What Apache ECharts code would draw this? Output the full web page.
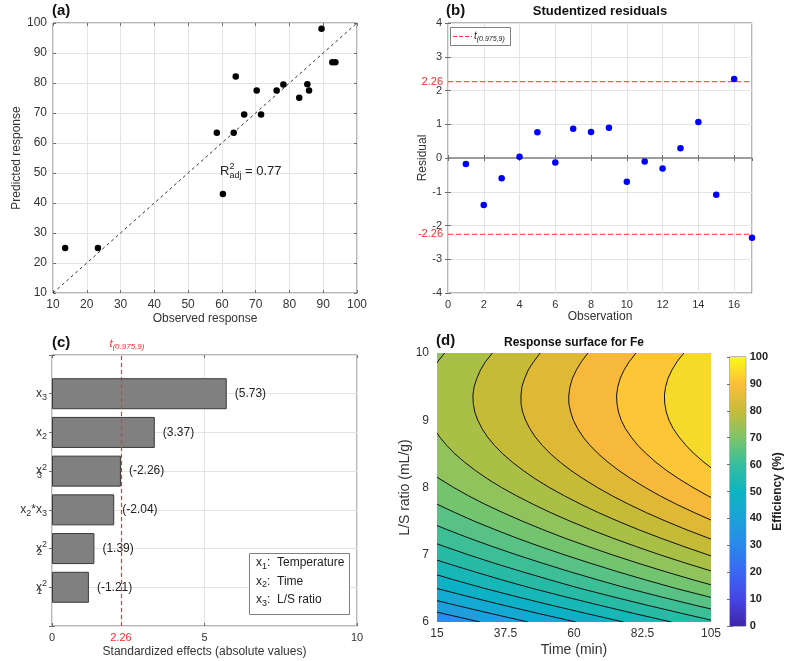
<!DOCTYPE html>
<html>
<head>
<meta charset="utf-8">
<script src="https://cdn.jsdelivr.net/npm/echarts@6/dist/echarts.min.js"></script>
<style>
  html, body { margin: 0; background: #fff; }
  #chart { width: 785px; height: 661px; }
</style>
</head>
<body>
<div id="chart"></div>
<script>
// ---- (a) observed vs predicted ----
const observed  = [13.6, 23.3, 58.5, 63.5, 64.1, 66.6, 71.6, 70.3, 76.2, 78.2, 82.9, 85.3, 85.8, 89.5, 92.7, 93.6, 60.3];
const predicted = [25.0, 25.0, 63.4, 63.4, 82.2, 69.5, 69.5, 77.5, 77.5, 79.5, 75.1, 79.6, 77.5, 98.1, 86.9, 86.9, 43.0];
const refLine = [[10, 10], [100, 100]];
const r2adj = 0.77;

// ---- (b) studentized residuals ----
const observation = [1, 2, 3, 4, 5, 6, 7, 8, 9, 10, 11, 12, 13, 14, 15, 16, 17];
const residuals = [-0.18, -1.39, -0.60, 0.04, 0.76, -0.13, 0.87, 0.77, 0.90, -0.70, -0.10, -0.31, 0.29, 1.07, -1.09, 2.34, -2.36];
const obsRange = [0, 17];
const tCrit = 2.26;

// ---- (c) standardized effects ----
const terms = ['x1^2', 'x2^2', 'x2*x3', 'x3^2', 'x2', 'x3'];
const effects = [-1.21, 1.39, -2.04, -2.26, 3.37, 5.73];
const factorNames = ['Temperature', 'Time', 'L/S ratio'];
const effectTicks = [0, tCrit, 5, 10];

// ---- (d) response surface (contour lines, [time, L/S]) ----
const timeTicks = [15, 37.5, 60, 82.5, 105];
const contourLevels = [36, 40, 44, 48, 52, 56, 60, 64, 68, 72, 76, 80, 84, 88, 92];
const contourLines = [
  [[29.1,6],[17.1,6.125],[5.4,6.25]],
  [[44.9,6],[32.8,6.125],[21.1,6.25],[9.9,6.375]],
  [[60.6,6],[48.5,6.125],[36.8,6.25],[25.6,6.375],[14.8,6.5]],
  [[76.3,6],[64.2,6.125],[52.5,6.25],[41.3,6.375],[30.6,6.5],[20.7,6.625],[11.3,6.75]],
  [[92.0,6],[79.9,6.125],[68.3,6.25],[57.1,6.375],[46.3,6.5],[36.4,6.625],[27.1,6.75],[18.1,6.875],[9.6,7]],
  [[107.7,6],[95.7,6.125],[84.0,6.25],[72.8,6.375],[62.0,6.5],[52.2,6.625],[42.8,6.75],[33.8,6.875],[25.3,7],[17.3,7.125],[9.7,7.25]],
  [[111.4,6.125],[99.7,6.25],[88.5,6.375],[77.7,6.5],[67.9,6.625],[58.5,6.75],[49.6,6.875],[41.1,7],[33.0,7.125],[25.4,7.25],[18.2,7.375],[11.5,7.5]],
  [[115.4,6.25],[104.2,6.375],[93.4,6.5],[83.6,6.625],[74.2,6.75],[65.3,6.875],[56.8,7],[48.7,7.125],[41.1,7.25],[34.0,7.375],[27.2,7.5],[21.0,7.625],[15.1,7.75],[9.7,7.875]],
  [[119.9,6.375],[109.2,6.5],[99.3,6.625],[89.9,6.75],[81.0,6.875],[72.5,7],[64.5,7.125],[56.8,7.25],[49.7,7.375],[43.0,7.5],[36.7,7.625],[30.8,7.75],[25.4,7.875],[20.5,8],[16.0,8.125],[11.9,8.25]],
  [[115.0,6.625],[105.7,6.75],[96.7,6.875],[88.2,7],[80.2,7.125],[72.6,7.25],[65.4,7.375],[58.7,7.5],[52.4,7.625],[46.6,7.75],[41.2,7.875],[36.2,8],[31.7,8.125],[27.7,8.25],[24.1,8.375],[20.9,8.5],[18.2,8.625],[15.9,8.75],[14.0,8.875],[12.6,9],[11.7,9.125],[11.2,9.25],[11.1,9.375],[11.5,9.5],[12.3,9.625],[13.6,9.75],[15.3,9.875],[17.5,10]],
  [[112.4,6.875],[103.9,7],[95.9,7.125],[88.3,7.25],[81.1,7.375],[74.4,7.5],[68.1,7.625],[62.3,7.75],[56.9,7.875],[51.9,8],[47.4,8.125],[43.4,8.25],[39.8,8.375],[36.6,8.5],[33.9,8.625],[31.6,8.75],[29.8,8.875],[28.4,9],[27.4,9.125],[26.9,9.25],[26.8,9.375],[27.2,9.5],[28.1,9.625],[29.3,9.75],[31.0,9.875],[33.2,10]],
  [[111.6,7.125],[104.0,7.25],[96.8,7.375],[90.1,7.5],[83.8,7.625],[78.0,7.75],[72.6,7.875],[67.7,8],[63.2,8.125],[59.1,8.25],[55.5,8.375],[52.3,8.5],[49.6,8.625],[47.3,8.75],[45.5,8.875],[44.1,9],[43.1,9.125],[42.6,9.25],[42.6,9.375],[42.9,9.5],[43.8,9.625],[45.0,9.75],[46.8,9.875],[48.9,10]],
  [[112.6,7.375],[105.8,7.5],[99.6,7.625],[93.7,7.75],[88.3,7.875],[83.4,8],[78.9,8.125],[74.8,8.25],[71.2,8.375],[68.0,8.5],[65.3,8.625],[63.0,8.75],[61.2,8.875],[59.8,9],[58.9,9.125],[58.3,9.25],[58.3,9.375],[58.7,9.5],[59.5,9.625],[60.8,9.75],[62.5,9.875],[64.6,10]],
  [[109.4,7.75],[104.0,7.875],[99.1,8],[94.6,8.125],[90.5,8.25],[86.9,8.375],[83.8,8.5],[81.0,8.625],[78.8,8.75],[76.9,8.875],[75.5,9],[74.6,9.125],[74.1,9.25],[74.0,9.375],[74.4,9.5],[75.2,9.625],[76.5,9.75],[78.2,9.875],[80.4,10]],
  [[110.3,8.125],[106.3,8.25],[102.7,8.375],[99.5,8.5],[96.8,8.625],[94.5,8.75],[92.6,8.875],[91.2,9],[90.3,9.125],[89.8,9.25],[89.7,9.375],[90.1,9.5],[90.9,9.625],[92.2,9.75],[93.9,9.875],[96.1,10]]
];
const timeRange = [15, 105];
const lsRange = [6, 10];
const effRange = [0, 100];

// band fill colours, lowest band first (below 36 ... above 92)
const bandColors = ['#2b8de7', '#1f9ede', '#13a9d3', '#0db1c6', '#16b7b6', '#27bba6', '#3dbf95', '#57c283',
  '#73c46f', '#90c35c', '#aabf46', '#c5bb37', '#dfb935', '#f6b93b', '#fdc637', '#f5da2b'];
const parulaStops = [
  {offset: 0.0, color: '#3e26a8'}, {offset: 0.1, color: '#4645e5'}, {offset: 0.2, color: '#3a67f4'},
  {offset: 0.3, color: '#2a88ea'}, {offset: 0.4, color: '#1ca2d9'}, {offset: 0.5, color: '#0db4c0'},
  {offset: 0.6, color: '#35be9e'}, {offset: 0.7, color: '#7ec56b'}, {offset: 0.8, color: '#c8bb3a'},
  {offset: 0.9, color: '#fcbf3a'}, {offset: 1.0, color: '#f9fb15'}
];

const FONT = '"Liberation Sans", Arial, Helvetica, sans-serif';
const BOX = '#6e6e6e';
const LBL = '#333333';
const GRIDC = '#e4e4e4';
const RED = '#ff2a2a';

const subRich = {
  b: {fontSize: 12, color: LBL, fontFamily: FONT},
  sub: {fontSize: 9, color: LBL, fontFamily: FONT, padding: [8, 0, 0, 0]},
  subz: {fontSize: 9, color: LBL, fontFamily: FONT, padding: [8, 0, 0, 0], width: 0},
  sup: {fontSize: 9, color: LBL, fontFamily: FONT, padding: [0, 0, 8, 0]}
};

function richTerm(t) {
  if (!t) return '';
  return t.split('*').map(function (f) {
    const m = f.match(/^x(\d)(\^(\d))?$/);
    return m[2] ? '{b|x}{subz|' + m[1] + '}{sup|' + m[3] + '}' : '{b|x}{sub|' + m[1] + '}';
  }).join('{b|*}');
}

const yCats = [''].concat(terms, ['']);
const barData = ['-'].concat(effects.map(Math.abs), ['-']);

function tickStyle() {
  return {show: true, inside: true, length: 3, lineStyle: {color: BOX}};
}
function mainLabel(size) {
  return {color: LBL, fontSize: size || 11, fontFamily: FONT};
}
function nameStyle(size) {
  return {color: LBL, fontSize: size || 12, fontFamily: FONT};
}
function mirrorAxis(o) {
  return Object.assign({
    type: 'value', axisLine: {show: false}, axisTick: tickStyle(),
    axisLabel: {show: false}, splitLine: {show: false}
  }, o);
}
// horizontal threshold line in (b), labelled at its left end
function critLine(v) {
  return {
    type: 'line', xAxisIndex: 2, yAxisIndex: 2, z: 4, silent: true,
    symbol: 'circle', symbolSize: 0, showSymbol: true, itemStyle: {color: RED},
    lineStyle: {color: RED, width: 1, type: [5, 3]},
    data: [
      {value: [obsRange[0], v], label: {show: true, position: 'left', distance: 5, color: RED, fontSize: 11,
        fontFamily: FONT, formatter: String(v)}},
      {value: [obsRange[1], v]}
    ]
  };
}

const chart = echarts.init(document.getElementById('chart'));

const option = {
  animation: false,
  textStyle: {fontFamily: FONT},
  grid: [
    {left: 53, top: 23, width: 304, height: 270, show: true, borderColor: BOX, borderWidth: 1, backgroundColor: '#fff'},
    {left: 448, top: 23, width: 304, height: 270, show: true, borderColor: BOX, borderWidth: 1, backgroundColor: '#fff'},
    {left: 52, top: 355, width: 305, height: 271, show: true, borderColor: BOX, borderWidth: 1, backgroundColor: '#fff'},
    {left: 437, top: 353, width: 274, height: 269, show: false},
    {left: 730, top: 357, width: 17, height: 269, show: true, borderColor: BOX, borderWidth: 1}
  ],
  xAxis: [
    {gridIndex: 0, type: 'value', min: 10, max: 100, interval: 10, axisLine: {show: false}, axisTick: tickStyle(),
      axisLabel: Object.assign(mainLabel(12), {margin: 6}), splitLine: {lineStyle: {color: GRIDC}},
      name: 'Observed response', nameLocation: 'middle', nameGap: 20, nameTextStyle: nameStyle()},
    mirrorAxis({gridIndex: 0, position: 'top', min: 10, max: 100, interval: 10}),
    {gridIndex: 1, type: 'value', min: obsRange[0], max: obsRange[1], interval: 2, axisLine: {show: false}, axisTick: tickStyle(),
      axisLabel: Object.assign(mainLabel(), {margin: 6, showMaxLabel: false}), splitLine: {lineStyle: {color: GRIDC}},
      name: 'Observation', nameLocation: 'middle', nameGap: 18, nameTextStyle: nameStyle()},
    mirrorAxis({gridIndex: 1, position: 'top', min: obsRange[0], max: obsRange[1], interval: 2}),
    {gridIndex: 2, type: 'value', min: 0, max: 10, axisLine: {show: false},
      axisTick: Object.assign(tickStyle(), {customValues: effectTicks}),
      axisLabel: Object.assign(mainLabel(), {margin: 6, customValues: effectTicks,
        formatter: function (v) { return v === tCrit ? '{r|' + v + '}' : String(v); },
        rich: {r: {color: RED, fontSize: 11, fontFamily: FONT}}}),
      splitLine: {lineStyle: {color: GRIDC}},
      name: 'Standardized effects (absolute values)', nameLocation: 'middle', nameGap: 20, nameTextStyle: nameStyle()},
    mirrorAxis({gridIndex: 2, position: 'top', min: 0, max: 10, axisTick: Object.assign(tickStyle(), {customValues: [0, 5, 10]})}),
    {gridIndex: 3, type: 'value', min: timeRange[0], max: timeRange[1], axisLine: {show: false}, axisTick: {show: false},
      axisLabel: Object.assign(mainLabel(12), {margin: 6, customValues: timeTicks}), splitLine: {show: false},
      name: 'Time (min)', nameLocation: 'middle', nameGap: 21, nameTextStyle: nameStyle(14)},
    {gridIndex: 4, type: 'value', min: 0, max: 1, show: false}
  ],
  yAxis: [
    {gridIndex: 0, type: 'value', min: 10, max: 100, interval: 10, axisLine: {show: false}, axisTick: tickStyle(),
      axisLabel: Object.assign(mainLabel(12), {margin: 6}), splitLine: {lineStyle: {color: GRIDC}},
      name: 'Predicted response', nameLocation: 'middle', nameGap: 27, nameTextStyle: nameStyle()},
    mirrorAxis({gridIndex: 0, position: 'right', min: 10, max: 100, interval: 10}),
    {gridIndex: 1, type: 'value', min: -4, max: 4, interval: 1, axisLine: {show: false}, axisTick: tickStyle(),
      axisLabel: Object.assign(mainLabel(), {margin: 6}), splitLine: {lineStyle: {color: GRIDC}},
      name: 'Residual', nameLocation: 'middle', nameGap: 17, nameTextStyle: nameStyle()},
    mirrorAxis({gridIndex: 1, position: 'right', min: -4, max: 4, interval: 1}),
    {gridIndex: 2, type: 'category', data: yCats, boundaryGap: false, axisLine: {show: false}, axisTick: tickStyle(),
      axisLabel: {margin: 5, formatter: richTerm, rich: subRich, interval: 0},
      splitLine: {show: true, lineStyle: {color: GRIDC}}},
    {gridIndex: 2, type: 'category', data: yCats, boundaryGap: false, position: 'right', axisLine: {show: false},
      axisTick: Object.assign(tickStyle(), {interval: 0}), axisLabel: {show: false}, splitLine: {show: false}},
    {gridIndex: 3, type: 'value', min: lsRange[0], max: lsRange[1], interval: 1, axisLine: {show: false}, axisTick: {show: false},
      axisLabel: Object.assign(mainLabel(12), {margin: 8}), splitLine: {show: false},
      name: 'L/S ratio (mL/g)', nameLocation: 'middle', nameGap: 20, nameTextStyle: nameStyle(14)},
    {gridIndex: 4, type: 'value', min: effRange[0], max: effRange[1], interval: 10, position: 'right',
      axisLine: {show: false}, axisTick: tickStyle(),
      axisLabel: {color: '#222', fontSize: 11, fontWeight: 'bold', fontFamily: FONT, margin: 4},
      splitLine: {show: false},
      name: 'Efficiency (%)', nameLocation: 'middle', nameGap: 26, nameRotate: 90,
      nameTextStyle: {color: '#222', fontSize: 12, fontWeight: 'bold', fontFamily: FONT}},
    mirrorAxis({gridIndex: 4, position: 'left', min: effRange[0], max: effRange[1], interval: 10})
  ],
  series: [
    {
      type: 'scatter', xAxisIndex: 0, yAxisIndex: 0, z: 5,
      data: observed.map(function (x, i) { return [x, predicted[i]]; }),
      symbolSize: 6.5, itemStyle: {color: '#000', opacity: 1},
      markPoint: {
        silent: true, symbol: 'circle', symbolSize: 1, itemStyle: {color: 'rgba(0,0,0,0)'},
        data: [{coord: [59.3, 50.5]}],
        label: {
          show: true, position: 'right', distance: 0,
          formatter: '{r|R}{supz|2}{sub|adj}{r| = ' + r2adj.toFixed(2) + '}',
          rich: {
            r: {fontSize: 13, color: '#222', fontFamily: FONT},
            supz: {fontSize: 9, color: '#222', fontFamily: FONT, padding: [0, 0, 9, 0], width: 0},
            sub: {fontSize: 9, color: '#222', fontFamily: FONT, padding: [9, 0, 0, 0]}
          }
        }
      }
    },
    {
      type: 'line', xAxisIndex: 0, yAxisIndex: 0, z: 3, data: refLine, symbol: 'none',
      lineStyle: {color: '#333', width: 1, type: [3, 3]}
    },
    {
      type: 'line', xAxisIndex: 2, yAxisIndex: 2, z: 3, symbol: 'none', silent: true,
      data: [[obsRange[0], 0], [obsRange[1], 0]],
      lineStyle: {color: '#808080', width: 1.3, type: 'solid'}
    },
    critLine(tCrit),
    critLine(-tCrit),
    {
      type: 'scatter', xAxisIndex: 2, yAxisIndex: 2, z: 5,
      data: observation.map(function (o, i) { return [o, residuals[i]]; }),
      symbolSize: 6.5, itemStyle: {color: '#0000ff', opacity: 1}
    },
    {
      type: 'bar', xAxisIndex: 4, yAxisIndex: 4, z: 3, data: barData, barWidth: 31,
      itemStyle: {color: '#808080', borderColor: '#3a3a3a', borderWidth: 1},
      label: {
        show: true, position: 'right', distance: 8, color: '#222', fontSize: 12, fontFamily: FONT,
        formatter: function (p) { return '(' + effects[p.dataIndex - 1].toFixed(2) + ')'; }
      },
      markLine: {
        silent: true, symbol: ['none', 'none'],
        lineStyle: {color: RED, type: [4, 3], width: 1.2},
        data: [{xAxis: tCrit}],
        label: {
          show: true, position: 'end', distance: 4, offset: [6, 0],
          formatter: '{t|t}{s|(0.975,9)}',
          rich: {
            t: {color: RED, fontSize: 11, fontStyle: 'italic', fontFamily: FONT},
            s: {color: RED, fontSize: 8, fontStyle: 'italic', fontFamily: FONT, padding: [6, 0, 0, 0]}
          }
        }
      }
    },
    {
      type: 'custom', xAxisIndex: 6, yAxisIndex: 6, clip: true, silent: true, z: 2,
      data: bandColors.map(function (c, i) { return [i]; }),
      renderItem: function (params, api) {
        const i = params.dataIndex;
        let pts;
        if (i === 0) {
          pts = [[timeRange[0], lsRange[0]], [timeRange[1], lsRange[0]], [timeRange[1], lsRange[1]], [timeRange[0], lsRange[1]]];
        } else {
          const line = contourLines[i - 1];
          const first = line[0], last = line[line.length - 1];
          const right = Math.max(timeRange[1], first[0]);
          pts = line.slice();
          if (last[1] < lsRange[1]) pts.push([last[0], lsRange[1]]);
          pts.push([right, lsRange[1]], [right, first[1]]);
        }
        return {
          type: 'polygon', z2: i,
          shape: {points: pts.map(function (p) { return api.coord(p); })},
          style: {fill: bandColors[i], stroke: null}
        };
      }
    },
    {
      type: 'custom', xAxisIndex: 6, yAxisIndex: 6, clip: true, silent: true, z: 3,
      data: contourLevels.map(function (l) { return [l]; }),
      renderItem: function (params, api) {
        const line = contourLines[params.dataIndex];
        return {
          type: 'polyline',
          shape: {points: line.map(function (p) { return api.coord(p); })},
          style: {stroke: '#111', lineWidth: 1, fill: null}
        };
      }
    },
    {
      type: 'custom', xAxisIndex: 7, yAxisIndex: 7, silent: true, z: 1,
      data: [[0]],
      renderItem: function (params, api) {
        const a = api.coord([0, effRange[0]]);
        const b = api.coord([1, effRange[1]]);
        return {
          type: 'rect',
          shape: {x: a[0], y: b[1], width: b[0] - a[0], height: a[1] - b[1]},
          style: {fill: {type: 'linear', x: 0, y: 1, x2: 0, y2: 0, colorStops: parulaStops}}
        };
      }
    }
  ],
  graphic: [
    {type: 'text', x: 52, y: 3, style: {text: '(a)', fontSize: 15, fontWeight: 'bold', fontFamily: FONT, fill: '#111'}},
    {type: 'text', x: 446, y: 3, style: {text: '(b)', fontSize: 15, fontWeight: 'bold', fontFamily: FONT, fill: '#111'}},
    {type: 'text', x: 600, y: 5, style: {text: 'Studentized residuals', align: 'center', fontSize: 13, fontWeight: 'bold', fontFamily: FONT, fill: '#111'}},
    {type: 'text', x: 52, y: 335, style: {text: '(c)', fontSize: 15, fontWeight: 'bold', fontFamily: FONT, fill: '#111'}},
    {type: 'text', x: 436, y: 333, style: {text: '(d)', fontSize: 15, fontWeight: 'bold', fontFamily: FONT, fill: '#111'}},
    {type: 'text', x: 574, y: 337, style: {text: 'Response surface for Fe', align: 'center', fontSize: 12, fontWeight: 'bold', fontFamily: FONT, fill: '#111'}},
    // legend box in (b)
    {type: 'rect', z: 100, shape: {x: 450.5, y: 27.5, width: 60, height: 18}, style: {fill: '#fff', stroke: '#808080', lineWidth: 1}},
    {type: 'line', z: 101, shape: {x1: 453, y1: 36.5, x2: 472, y2: 36.5}, style: {stroke: RED, lineDash: [4, 2], lineWidth: 1.2}},
    {type: 'text', z: 101, x: 474, y: 36.5, style: {
      text: '{t|t}{s|(0.975,9)}', verticalAlign: 'middle',
      rich: {
        t: {fill: '#222', fontSize: 10, fontStyle: 'italic', fontFamily: FONT},
        s: {fill: '#222', fontSize: 7, fontStyle: 'italic', fontFamily: FONT, padding: [5, 0, 0, 0]}
      }
    }},
    // legend box in (c)
    {type: 'rect', z: 100, shape: {x: 249.5, y: 553.5, width: 100, height: 61}, style: {fill: '#fff', stroke: '#808080', lineWidth: 1}}
  ].concat(factorNames.map(function (n, i) {
    return {type: 'text', z: 101, x: 256, y: 563 + i * 18.3, style: {
      text: '{b|x}{sub|' + (i + 1) + '}{b|:  ' + n + '}', verticalAlign: 'middle',
      rich: {
        b: {fill: '#222', fontSize: 12, fontFamily: FONT},
        sub: {fill: '#222', fontSize: 9, fontFamily: FONT, padding: [7, 0, 0, 0]}
      }
    }};
  }))
};

chart.setOption(option);
</script>
</body>
</html>
